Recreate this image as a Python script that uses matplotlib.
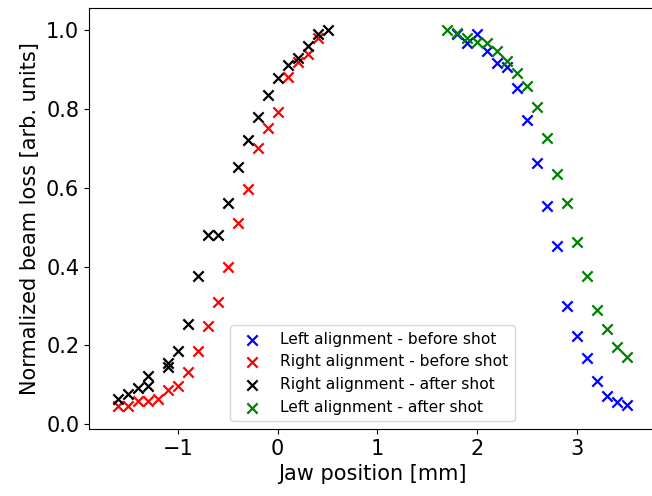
import numpy as np
import matplotlib
matplotlib.use('Agg')
import matplotlib.pyplot as plt

# Left alignment - before shot (blue)
x_left_before = [1.8, 1.9, 2.0, 2.1, 2.2, 2.3, 2.4, 2.5, 2.6, 2.7, 2.8, 2.9,
                 3.0, 3.1, 3.2, 3.3, 3.4, 3.5]
y_left_before = [0.990, 0.967, 0.990, 0.947, 0.916, 0.906, 0.853, 0.772, 0.663,
                 0.554, 0.451, 0.299, 0.223, 0.167, 0.109, 0.071, 0.056, 0.048]

# Right alignment - before shot (red)
x_right_before = [-1.6, -1.5, -1.4, -1.3, -1.2, -1.1, -1.0, -0.9, -0.8, -0.7,
                  -0.6, -0.5, -0.4, -0.3, -0.2, -0.1, 0.0, 0.1, 0.2, 0.3, 0.4]
y_right_before = [0.046, 0.046, 0.058, 0.058, 0.063, 0.086, 0.096, 0.132, 0.187,
                  0.248, 0.311, 0.400, 0.511, 0.597, 0.701, 0.752, 0.792, 0.881,
                  0.919, 0.939, 0.980]

# Right alignment - after shot (black)
x_right_after = [-1.6, -1.5, -1.4, -1.3, -1.3, -1.1, -1.1, -1.0, -0.9, -0.8,
                 -0.7, -0.6, -0.5, -0.4, -0.3, -0.2, -0.1, 0.0, 0.1, 0.2, 0.3,
                 0.4, 0.5]
y_right_after = [0.063, 0.076, 0.091, 0.096, 0.122, 0.145, 0.155, 0.185, 0.254,
                 0.376, 0.480, 0.480, 0.561, 0.652, 0.721, 0.779, 0.835, 0.878,
                 0.911, 0.929, 0.959, 0.990, 1.0]

# Left alignment - after shot (green)
x_left_after = [1.7, 1.8, 1.9, 2.0, 2.1, 2.2, 2.3, 2.4, 2.5, 2.6, 2.7, 2.8,
                2.9, 3.0, 3.1, 3.2, 3.3, 3.4, 3.5]
y_left_after = [1.0, 0.992, 0.980, 0.970, 0.967, 0.947, 0.922, 0.891, 0.858,
                0.805, 0.727, 0.635, 0.561, 0.461, 0.375, 0.289, 0.241, 0.197,
                0.170]

fig = plt.figure(figsize=(6.52, 4.96), dpi=100)
# right spine falls just outside the canvas, as in the original crop
ax = fig.add_axes([89/652, (496-429)/496, (656-89)/652, (429-7.5)/496])

ms = 55
lw = 1.6
ax.scatter(x_left_before, y_left_before, marker='x', s=ms, linewidths=lw,
           color='blue', label='Left alignment - before shot')
ax.scatter(x_right_before, y_right_before, marker='x', s=ms, linewidths=lw,
           color='red', label='Right alignment - before shot')
ax.scatter(x_right_after, y_right_after, marker='x', s=ms, linewidths=lw,
           color='black', label='Right alignment - after shot')
ax.scatter(x_left_after, y_left_after, marker='x', s=ms, linewidths=lw,
           color='green', label='Left alignment - after shot')

ax.set_xlim(-1.893, 3.794)
ax.set_ylim(-0.012, 1.057)
ax.set_xticks([-1, 0, 1, 2, 3])
ax.set_yticks([0.0, 0.2, 0.4, 0.6, 0.8, 1.0])
ax.tick_params(labelsize=15)
ax.set_xlabel('Jaw position [mm]', fontsize=15)
ax.set_ylabel('Normalized beam loss [arb. units]', fontsize=15)

ax.legend(loc='lower center', bbox_to_anchor=(0.5, 0.0), fontsize=11.2,
          scatterpoints=1)

fig.savefig('out.png', dpi=100)
